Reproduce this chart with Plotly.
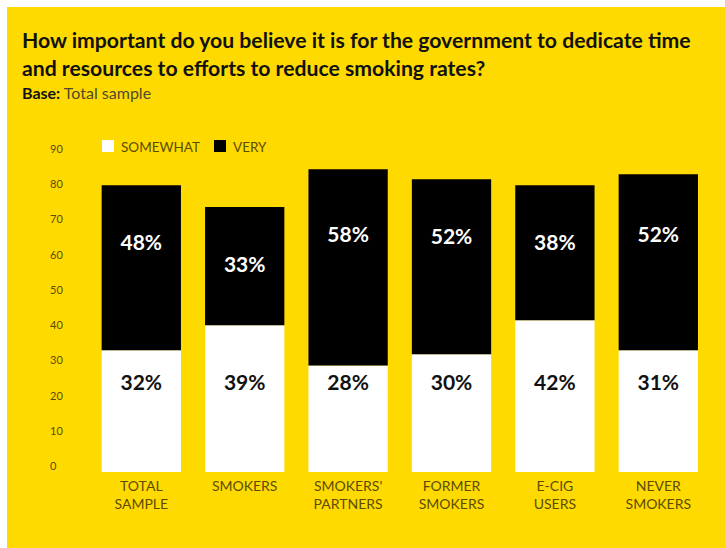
import plotly.graph_objects as go

# ---- data ----
categories = ["Total sample", "Smokers", "Smokers' partners", "Former smokers", "E-cig users", "Never smokers"]
tick_labels = ["TOTAL<br>SAMPLE", "SMOKERS", "SMOKERS'<br>PARTNERS", "FORMER<br>SMOKERS", "E-CIG<br>USERS", "NEVER<br>SMOKERS"]
somewhat = [32.9, 40.0, 28.6, 31.8, 41.4, 32.9]
very = [46.8, 33.5, 55.6, 49.6, 38.3, 49.9]
somewhat_text = ["32%", "39%", "28%", "30%", "42%", "31%"]
very_text = ["48%", "33%", "58%", "52%", "38%", "52%"]
y_ticks = [0, 10, 20, 30, 40, 50, 60, 70, 80, 90]
series_names = ["SOMEWHAT", "VERY"]
series_colors = ["#FFFFFF", "#000000"]
title_lines = [
    "How important do you believe it is for the government to dedicate time",
    "and resources to efforts to reduce smoking rates?",
]

# ---- style ----
W, H = 725, 548
YELLOW = "#FFDA00"
OLIVE = "#5A4C00"
L, R, T, B = 46, 5, 130, 76
PW, PH = W - L - R, H - T - B
FLOOR = -1.62           # bars start slightly below the zero tick
PX_PER_UNIT = 3.527
X_STEP = 103.4
FIRST_CENTER = 141.3

x0 = -(FIRST_CENTER - L) / X_STEP
x1 = x0 + PW / X_STEP
y_top = FLOOR + PH / PX_PER_UNIT


def px_to_paper_x(px):
    return (px - L) / PW


def px_to_paper_y(py):
    return (T + PH - py) / PH


fig = go.Figure()
fig.add_trace(go.Bar(
    name=series_names[0], x=categories, y=[s - FLOOR for s in somewhat], base=FLOOR,
    marker=dict(color=series_colors[0], line=dict(width=0)), hoverinfo="skip",
))
fig.add_trace(go.Bar(
    name=series_names[1], x=categories, y=very, base=somewhat,
    marker=dict(color=series_colors[1], line=dict(width=0)), hoverinfo="skip",
))
# value labels
fig.add_trace(go.Scatter(
    x=categories, y=[23] * len(categories), mode="text", text=somewhat_text,
    textfont=dict(family="Lato", size=21, color="#111111", weight="bold"),
    showlegend=False, hoverinfo="skip",
))
fig.add_trace(go.Scatter(
    x=categories, y=[min(s + v - 17, 65) for s, v in zip(somewhat, very)],
    mode="text", text=very_text,
    textfont=dict(family="Lato", size=21, color="#FFFFFF", weight="bold"),
    showlegend=False, hoverinfo="skip",
))

# white page border on the top and left, yellow elsewhere (paper background)
shapes = [
    dict(type="rect", xref="paper", yref="paper", layer="below",
         x0=px_to_paper_x(-2), x1=px_to_paper_x(W + 2),
         y0=px_to_paper_y(7), y1=px_to_paper_y(-2),
         fillcolor="#FFFFFF", line=dict(width=0)),
    dict(type="rect", xref="paper", yref="paper", layer="below",
         x0=px_to_paper_x(-2), x1=px_to_paper_x(7),
         y0=px_to_paper_y(H + 2), y1=px_to_paper_y(-2),
         fillcolor="#FFFFFF", line=dict(width=0)),
]
annotations = []

# title (two lines in one text block)
annotations.append(dict(
    text="<br>".join(f"<b>{line}</b>" for line in title_lines),
    xref="paper", yref="paper",
    x=px_to_paper_x(20), y=px_to_paper_y(53.5),
    xanchor="left", yanchor="middle", align="left", showarrow=False,
    font=dict(family="Lato", size=21.2, color="#111111"),
))
annotations.append(dict(
    text="<b>Base:</b> <span style='color:#4f4a30'>Total sample</span>",
    xref="paper", yref="paper", x=px_to_paper_x(20), y=px_to_paper_y(92.3),
    xanchor="left", yanchor="middle", showarrow=False,
    font=dict(family="Lato", size=16, color="#111111"),
))

# manual legend
legend_x = [102, 214]
for name, color, lx in zip(series_names, series_colors, legend_x):
    shapes.append(dict(
        type="rect", xref="paper", yref="paper",
        x0=px_to_paper_x(lx), x1=px_to_paper_x(lx + 12),
        y0=px_to_paper_y(152), y1=px_to_paper_y(140),
        fillcolor=color, line=dict(width=0),
    ))
    annotations.append(dict(
        text=name, xref="paper", yref="paper",
        x=px_to_paper_x(lx + 17), y=px_to_paper_y(146.5),
        xanchor="left", yanchor="middle", showarrow=False,
        font=dict(family="Lato", size=13.5, color=OLIVE),
    ))

fig.update_layout(
    width=W, height=H,
    margin=dict(l=L, r=R, t=T, b=B, pad=0),
    paper_bgcolor=YELLOW,
    plot_bgcolor="rgba(0,0,0,0)",
    barmode="overlay",
    bargap=0.233,
    showlegend=False,
    font=dict(family="Lato", color=OLIVE),
    xaxis=dict(
        type="category", range=[x0, x1], tickvals=categories, ticktext=tick_labels,
        showgrid=False, zeroline=False, showline=False, ticks="",
        tickfont=dict(family="Lato", size=14, color=OLIVE),
        ticklabelstandoff=4,
        fixedrange=True, automargin=False,
    ),
    yaxis=dict(
        range=[FLOOR, y_top], tickvals=y_ticks,
        showgrid=False, zeroline=False, showline=False, ticks="",
        side="right", anchor="free", position=px_to_paper_x(49),
        tickfont=dict(family="Lato", size=11, color=OLIVE),
        fixedrange=True, automargin=False,
    ),
    shapes=shapes,
    annotations=annotations,
)

fig.write_html(
    "out.html",
    config={"displayModeBar": False},
    post_script=(
        "document.body.style.margin='0';"
        "document.body.style.overflow='hidden';"
        "document.documentElement.style.overflow='hidden';"
        f"document.documentElement.style.background='{YELLOW}';"
    ),
)
